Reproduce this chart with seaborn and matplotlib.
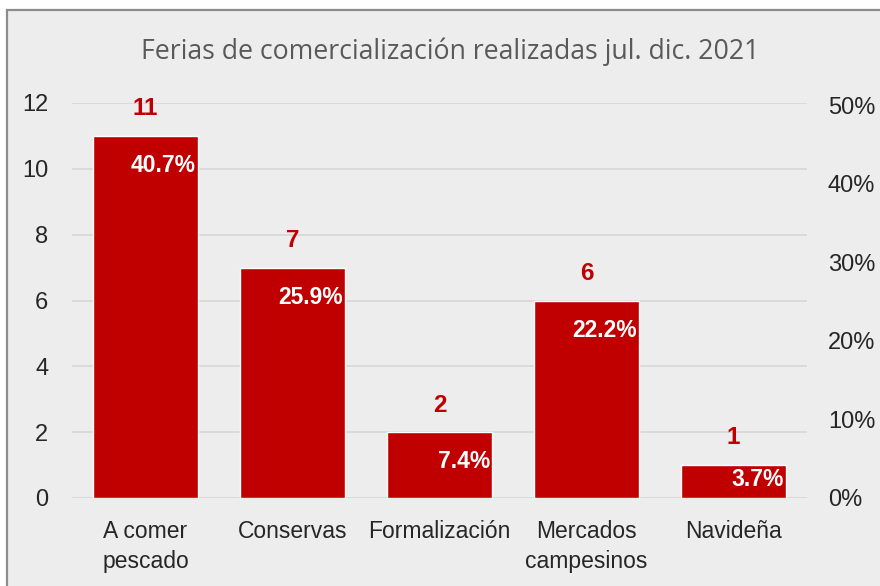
import matplotlib
matplotlib.use("Agg")
import matplotlib.pyplot as plt
import seaborn as sns
import pandas as pd
from matplotlib.patches import Rectangle
from matplotlib.ticker import FuncFormatter

categories = ["A comer\npescado", "Conservas", "Formalización", "Mercados\ncampesinos", "Navideña"]
counts = [11, 7, 2, 6, 1]
percents = [40.7, 25.9, 7.4, 22.2, 3.7]
left_ticks = [0, 2, 4, 6, 8, 10, 12]
right_ticks = [0, 10, 20, 30, 40, 50]
title = "Ferias de comercialización realizadas jul. dic. 2021"

sns.set_theme(style="white")
plt.rcParams['font.family'] = ['Liberation Sans', 'DejaVu Sans']

BG = "#EDEDED"
RED = "#C00000"
GRID = "#D9D9D9"

fig = plt.figure(figsize=(8.8, 5.86), dpi=100)
fig.patch.set_facecolor("white")
fig.patches.append(Rectangle((7/880, -0.01), 1.0, 1 - 10/586 + 0.01, transform=fig.transFigure,
                             facecolor=BG, edgecolor="#8C8C8C", linewidth=1.6, zorder=-5))

ax = fig.add_axes([72/880, 1 - 498/586, (807 - 72)/880, (498 - 103)/586])
ax.set_facecolor("none")
df = pd.DataFrame({"cat": categories, "count": counts, "pct": percents})
sns.barplot(data=df, x="cat", y="count", color=RED, saturation=1, width=0.714, ax=ax, zorder=3)
ax.set_ylim(0, 12)
ax.set_xlim(-0.5, len(categories) - 0.5)
ax.set_yticks(left_ticks)
ax.set_xlabel("")
ax.set_ylabel("")
ax.yaxis.grid(True, color=GRID, linewidth=1.3, zorder=0)
ax.set_axisbelow(True)
for s in ax.spines.values():
    s.set_visible(False)
ax.tick_params(axis="y", length=0, pad=17, labelsize=17, labelcolor="#262626")
ax.tick_params(axis="x", length=0, pad=16, labelsize=16.5, labelcolor="#262626")
for lbl in ax.get_xticklabels():
    lbl.set_linespacing(1.4)

half_w = 0.714 / 2
for i, (c, p) in enumerate(zip(counts, percents)):
    ax.annotate(str(c), xy=(i, c), xytext=(0, 19.5), textcoords="offset points", ha="center", va="center",
                fontsize=17.5, fontweight="bold", color=RED)
    ypos = max(c - 0.9, c * 0.55)
    ax.annotate(f"{p:.1f}%", xy=(i + half_w, ypos), xytext=(-1.5, 0), textcoords="offset points",
                ha="right", va="center", fontsize=16.5, fontweight="bold", color="white", zorder=5)

ax2 = ax.twinx()
ax2.set_ylim(0, 50.3)
ax2.set_yticks(right_ticks)
ax2.yaxis.set_major_formatter(FuncFormatter(lambda v, _: f"{v:.0f}%"))
ax2.tick_params(axis="y", length=0, pad=15, labelsize=17, labelcolor="#262626")
for s in ax2.spines.values():
    s.set_visible(False)
ax2.grid(False)

fig.text(450/880, 1 - 52/586, title, ha="center", va="center", fontsize=19.2, color="#595959",
         family=["Open Sans", "DejaVu Sans"])

fig.savefig("out.png", dpi=100)
